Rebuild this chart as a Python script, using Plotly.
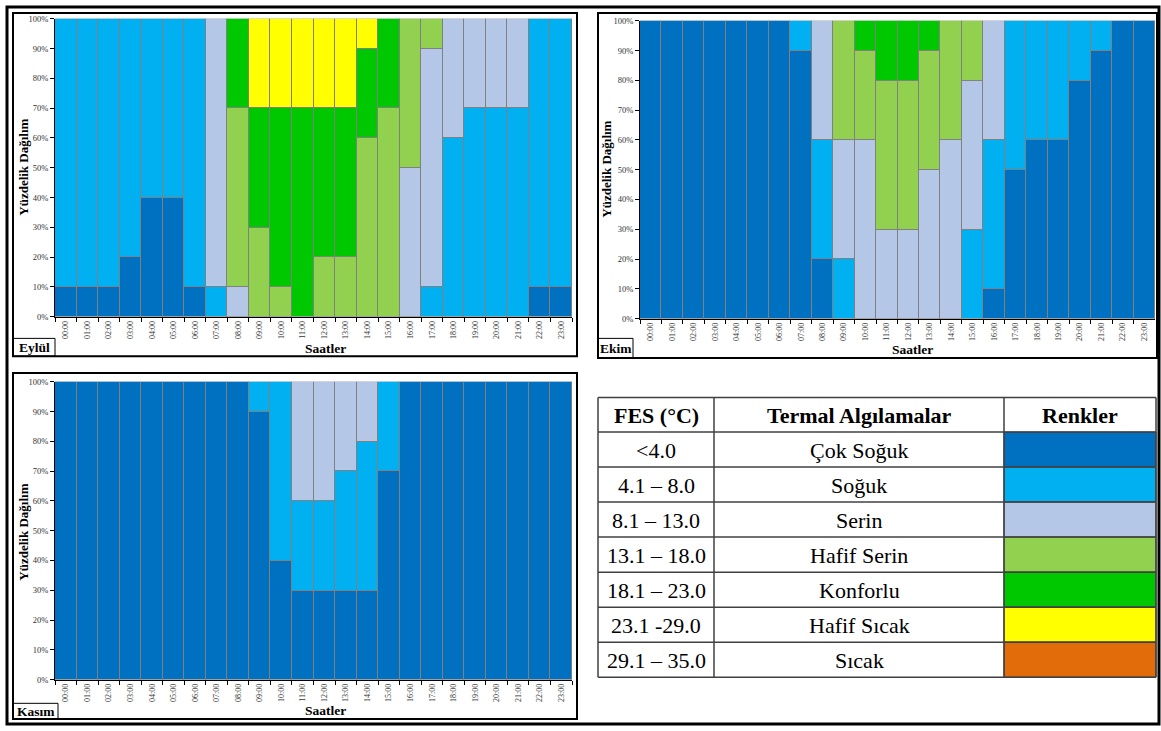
import plotly.graph_objects as go

# ---------------- data ----------------
hours = [f"{h:02d}:00" for h in range(24)]

categories = ["Çok Soğuk", "Soğuk", "Serin", "Hafif Serin", "Konforlu", "Hafif Sıcak", "Sıcak"]
fes_ranges = ["<4.0", "4.1 – 8.0", "8.1 – 13.0", "13.1 – 18.0", "18.1 – 23.0", "23.1 -29.0", "29.1 – 35.0"]
cat_colors = ["#0070C0", "#00B0F0", "#B4C7E7", "#92D050", "#00C800", "#FFFF00", "#E36C0A"]

# Eylül (September)
eylul_cok_soguk   = [10, 10, 10, 20, 40, 40, 10, 0, 0, 0, 0, 0, 0, 0, 0, 0, 0, 0, 0, 0, 0, 0, 10, 10]
eylul_soguk       = [90, 90, 90, 80, 60, 60, 90, 10, 0, 0, 0, 0, 0, 0, 0, 0, 0, 10, 60, 70, 70, 70, 90, 90]
eylul_serin       = [0, 0, 0, 0, 0, 0, 0, 90, 10, 0, 0, 0, 0, 0, 0, 0, 50, 80, 40, 30, 30, 30, 0, 0]
eylul_hafif_serin = [0, 0, 0, 0, 0, 0, 0, 0, 60, 30, 10, 0, 20, 20, 60, 70, 50, 10, 0, 0, 0, 0, 0, 0]
eylul_konforlu    = [0, 0, 0, 0, 0, 0, 0, 0, 30, 40, 60, 70, 50, 50, 30, 30, 0, 0, 0, 0, 0, 0, 0, 0]
eylul_hafif_sicak = [0, 0, 0, 0, 0, 0, 0, 0, 0, 30, 30, 30, 30, 30, 10, 0, 0, 0, 0, 0, 0, 0, 0, 0]

# Ekim (October)
ekim_cok_soguk   = [100, 100, 100, 100, 100, 100, 100, 90, 20, 0, 0, 0, 0, 0, 0, 0, 10, 50, 60, 60, 80, 90, 100, 100]
ekim_soguk       = [0, 0, 0, 0, 0, 0, 0, 10, 40, 20, 0, 0, 0, 0, 0, 30, 50, 50, 40, 40, 20, 10, 0, 0]
ekim_serin       = [0, 0, 0, 0, 0, 0, 0, 0, 40, 40, 60, 30, 30, 50, 60, 50, 40, 0, 0, 0, 0, 0, 0, 0]
ekim_hafif_serin = [0, 0, 0, 0, 0, 0, 0, 0, 0, 40, 30, 50, 50, 40, 40, 20, 0, 0, 0, 0, 0, 0, 0, 0]
ekim_konforlu    = [0, 0, 0, 0, 0, 0, 0, 0, 0, 0, 10, 20, 20, 10, 0, 0, 0, 0, 0, 0, 0, 0, 0, 0]

# Kasım (November)
kasim_cok_soguk = [100, 100, 100, 100, 100, 100, 100, 100, 100, 90, 40, 30, 30, 30, 30, 70, 100, 100, 100, 100, 100, 100, 100, 100]
kasim_soguk     = [0, 0, 0, 0, 0, 0, 0, 0, 0, 10, 60, 30, 30, 40, 50, 30, 0, 0, 0, 0, 0, 0, 0, 0]
kasim_serin     = [0, 0, 0, 0, 0, 0, 0, 0, 0, 0, 0, 40, 40, 30, 20, 0, 0, 0, 0, 0, 0, 0, 0, 0]

month_names = ["Eylül", "Ekim", "Kasım"]
y_ticks = list(range(0, 101, 10))
y_ticktext = [f"{v}%" for v in y_ticks]

# ---------------- layout helpers ----------------
W, H = 1161, 731
def px(x):
    return x / W
def py(y):
    return 1 - y / H

SERIF = "Liberation Serif"
fig = go.Figure()

panels = [
    # (series list, axis suffix, plot box px: x0,x1,y0,y1)
    ([eylul_cok_soguk, eylul_soguk, eylul_serin, eylul_hafif_serin, eylul_konforlu, eylul_hafif_sicak], "", (55, 572, 14, 316)),
    ([ekim_cok_soguk, ekim_soguk, ekim_serin, ekim_hafif_serin, ekim_konforlu], "2", (640, 1155, 16, 318)),
    ([kasim_cok_soguk, kasim_soguk, kasim_serin], "3", (55, 572, 382, 684)),
]

layout_axes = {}
for series, suf, (x0, x1, y0, y1) in panels:
    for ci, vals in enumerate(series):
        fig.add_trace(go.Bar(
            x=hours,
            y=[v if v else None for v in vals],
            name=categories[ci],
            marker=dict(color=cat_colors[ci], line=dict(color="#808080", width=1)),
            xaxis="x" + suf, yaxis="y" + suf,
            showlegend=False,
        ))
    layout_axes["xaxis" + suf] = dict(
        domain=[px(x0), px(x1)], anchor="y" + suf, type="category",
        range=[-0.5, 23.5], tickangle=-90, tickson="boundaries",
        ticks="outside", ticklen=4, tickcolor="#000", showline=True,
        linecolor="#000", linewidth=1, showgrid=False, zeroline=False,
        tickfont=dict(family=SERIF, size=8, color="#333"), fixedrange=True,
    )
    layout_axes["yaxis" + suf] = dict(
        domain=[py(y1), py(y0)], anchor="x" + suf, range=[0, 100],
        tickvals=y_ticks, ticktext=y_ticktext, ticks="outside", ticklen=4,
        tickcolor="#000", showline=True, linecolor="#000", linewidth=1,
        showgrid=False, zeroline=False,
        tickfont=dict(family=SERIF, size=8.5, color="#333"), fixedrange=True,
    )

shapes = []
annotations = []

def rect(x0, y0, x1, y1, color="#000", width=1.5, fill=None):
    d = dict(type="rect", xref="paper", yref="paper", x0=px(x0), x1=px(x1), y0=py(y1), y1=py(y0),
             line=dict(color=color, width=width))
    if fill:
        d["fillcolor"] = fill
    shapes.append(d)

def line(x0, y0, x1, y1, color="#000", width=1.5):
    shapes.append(dict(type="line", xref="paper", yref="paper", x0=px(x0), x1=px(x1), y0=py(y0), y1=py(y1),
                       line=dict(color=color, width=width)))

def text(x, y, s, size=12, bold=False, angle=0, color="#000"):
    annotations.append(dict(xref="paper", yref="paper", x=px(x), y=py(y), text=f"<b>{s}</b>" if bold else s,
                            showarrow=False, textangle=angle, xanchor="center", yanchor="middle",
                            font=dict(family=SERIF, size=size, color=color)))

# outer frame
rect(7, 2, 1159, 729, width=3)
# panel boxes
rect(13, 8, 577, 356, width=2)
rect(598, 8, 1157, 358, width=2)
rect(13, 373, 577, 724, width=2)
# month label boxes
rect(13, 338, 55, 356, width=1)
rect(598, 338, 633, 358, width=1)
rect(13, 708, 58, 724, width=1)
text(34, 347, month_names[0], size=13.5, bold=True)
text(615.5, 348, month_names[1], size=13.5, bold=True)
text(35.5, 716, month_names[2], size=13.5, bold=True)

# axis titles
text(24, 165, "Yüzdelik Dağılım", size=13, bold=True, angle=-90)
text(325, 348, "Saatler", size=13.5, bold=True)
text(607, 167, "Yüzdelik Dağılım", size=13, bold=True, angle=-90)
text(912, 349, "Saatler", size=13.5, bold=True)
text(24, 535, "Yüzdelik Dağılım", size=13, bold=True, angle=-90)
text(325, 715, "Saatler", size=13.5, bold=True)

# ---------------- legend table ----------------
tx0, tx1, tx2, tx3 = 598, 714, 1004, 1156
ty_top = 398
row_h = 35.5
header_h = 35
n_rows = len(categories)
ty_bottom = ty_top + header_h + n_rows * row_h

for i in range(n_rows):
    r0 = ty_top + header_h + i * row_h
    rect(tx2, r0, tx3, r0 + row_h, color="#404040", width=1, fill=cat_colors[i])
    text((tx0 + tx1) / 2, r0 + row_h / 2 + 1, fes_ranges[i], size=22)
    text((tx1 + tx2) / 2, r0 + row_h / 2 + 1, categories[i], size=22)

# grid lines
line(tx0, ty_top, tx3, ty_top, color="#404040")
for i in range(n_rows + 1):
    yy = ty_top + header_h + i * row_h
    line(tx0, yy, tx3, yy, color="#404040")
for xx in (tx0, tx1, tx2, tx3):
    line(xx, ty_top, xx, ty_bottom, color="#404040")

text((tx0 + tx1) / 2, ty_top + header_h / 2 + 1, "FES (°C)", size=22, bold=True)
text((tx1 + tx2) / 2, ty_top + header_h / 2 + 1, "Termal Algılamalar", size=22, bold=True)
text((tx2 + tx3) / 2, ty_top + header_h / 2 + 1, "Renkler", size=22, bold=True)

fig.update_layout(
    width=W, height=H, margin=dict(l=0, r=0, t=0, b=0),
    paper_bgcolor="white", plot_bgcolor="white",
    barmode="stack", bargap=0,
    shapes=shapes, annotations=annotations,
    **layout_axes,
)

fig.write_html(
    "out.html",
    config={"displayModeBar": False},
    post_script="document.body.style.margin='0';document.body.style.padding='0';document.body.style.overflow='hidden';",
)
